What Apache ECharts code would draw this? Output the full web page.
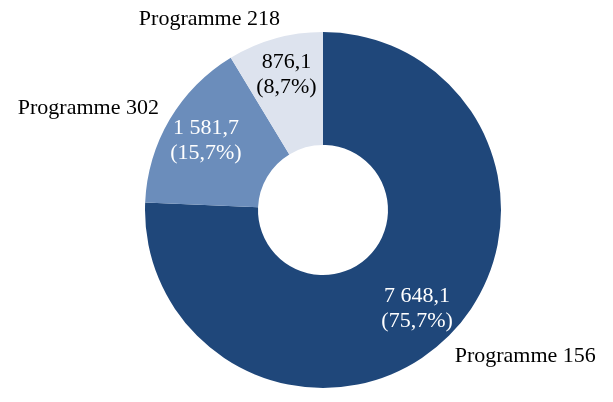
<!DOCTYPE html>
<html><head><meta charset="utf-8">
<script src="https://cdn.jsdelivr.net/npm/echarts@6/dist/echarts.min.js"></script>
<style>html,body{margin:0;padding:0;background:#fff}#c{width:613px;height:402px}</style>
</head><body><div id="c"></div>
<script>
const categories = ['Programme 156', 'Programme 302', 'Programme 218'];
const values = [7648.1, 1581.7, 876.1];
const valueLabels = ['7 648,1', '1 581,7', '876,1'];
const percentLabels = ['75,7%', '15,7%', '8,7%'];
const colors = ['#1F477A', '#6B8DBB', '#DDE3EE'];
const textColors = ['#ffffff', '#ffffff', '#000000'];
const nameOffsets = [[-2, 12], [1, -7], [12, -12]];
const innerOffsets = [[0, 1], [0, 0], [0, -4]];

const FONT = 'Liberation Serif';
const data = categories.map((c, i) => ({ name: c, value: values[i], itemStyle: { color: colors[i] } }));
const center = [323, 210];

const chart = echarts.init(document.getElementById('c'), null, { renderer: 'canvas' });
chart.setOption({
  animation: false,
  series: [
    {
      type: 'pie', center: center, radius: [65, 178], startAngle: 90, clockwise: true,
      silent: true, label: { show: false }, labelLine: { show: false },
      data: data
    },
    {
      type: 'pie', center: center, radius: [88, 178], startAngle: 90, clockwise: true,
      silent: true, itemStyle: { color: 'transparent' }, labelLine: { show: false },
      label: {
        show: true, position: 'inside', fontFamily: FONT, fontSize: 22, lineHeight: 25,
        formatter: p => valueLabels[p.dataIndex] + '\n(' + percentLabels[p.dataIndex] + ')',
        color: '#fff'
      },
      labelLayout: p => ({ dx: innerOffsets[p.dataIndex][0], dy: innerOffsets[p.dataIndex][1] }),
      data: categories.map((c, i) => ({ name: c, value: values[i], itemStyle: { color: 'transparent' }, label: { color: textColors[i] } }))
    },
    {
      type: 'pie', center: center, radius: [0, 178], startAngle: 90, clockwise: true,
      silent: true, avoidLabelOverlap: false,
      label: { show: true, position: 'outside', fontFamily: FONT, fontSize: 22, color: '#000', formatter: '{b}' },
      labelLine: { show: false, length: 8, length2: 0 },
      labelLayout: p => ({ dx: nameOffsets[p.dataIndex][0], dy: nameOffsets[p.dataIndex][1] }),
      data: categories.map((c, i) => ({ name: c, value: values[i], itemStyle: { color: 'transparent' } }))
    }
  ]
});
</script></body></html>
